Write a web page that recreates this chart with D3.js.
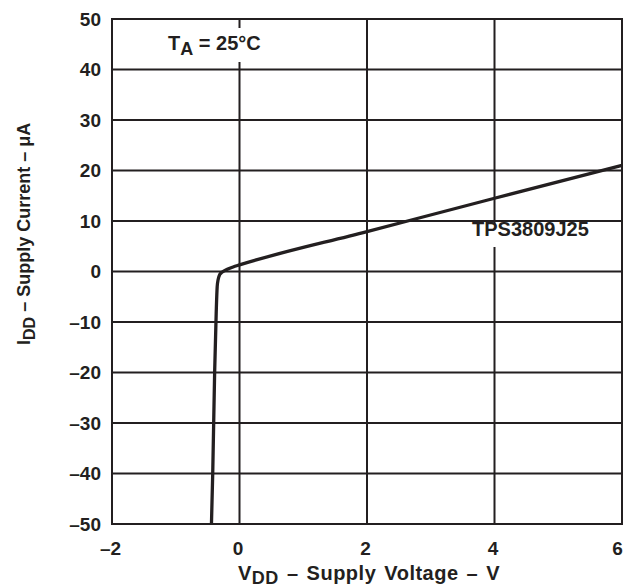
<!DOCTYPE html>
<html><head><meta charset="utf-8">
<script src="https://cdn.jsdelivr.net/npm/d3@7"></script>
<style>body{margin:0;background:#fff}svg{display:block}text{font-family:"Liberation Sans",Arial,sans-serif;font-weight:bold;fill:#231f20}</style>
</head><body><svg id="c" width="626" height="588"></svg>
<script>
const voltage = [-0.44, -0.42, -0.39, -0.365, -0.35, -0.335, -0.31, -0.27, -0.2, -0.1, 0, 2, 4, 6];
const current = [-50, -40, -20, -8, -3, -1.6, -0.6, -0.1, 0.4, 0.9, 1.3, 7.9, 14.5, 21];
const xTicks = [-2, 0, 2, 4, 6];
const yTicks = [-50, -40, -30, -20, -10, 0, 10, 20, 30, 40, 50];
const seriesLabel = "TPS3809J25";

const svg = d3.select("#c");
const L = 112, R = 622, T = 19, B = 524;
const x = d3.scaleLinear().domain([-2, 6]).range([L, R]);
const y = d3.scaleLinear().domain([-50, 50]).range([B, T]);
const ink = "#231f20";
const fmt = d => d < 0 ? "\u2013" + Math.abs(d) : String(d);

// grid
svg.append("g").selectAll("line").data(xTicks).join("line")
  .attr("x1", d => x(d)).attr("x2", d => x(d)).attr("y1", T).attr("y2", B)
  .attr("stroke", ink).attr("stroke-width", 2);
svg.append("g").selectAll("line").data(yTicks).join("line")
  .attr("x1", L - 1).attr("x2", R + 1).attr("y1", d => y(d)).attr("y2", d => y(d))
  .attr("stroke", ink).attr("stroke-width", 2);

// axes labels
const xa = svg.append("g").attr("transform", `translate(0,${B})`)
  .call(d3.axisBottom(x).tickValues(xTicks).tickSize(0).tickPadding(18).tickFormat(fmt));
const ya = svg.append("g").attr("transform", `translate(${L},0)`)
  .call(d3.axisLeft(y).tickValues(yTicks).tickSize(0).tickPadding(11).tickFormat(fmt));
[xa, ya].forEach(a => {
  a.attr("font-size", null).attr("font-family", null);
  a.select(".domain").remove();
  a.selectAll("text").style("font-size", "19px").style("font-weight", "bold").attr("fill", ink);
});
xa.selectAll("text").attr("dx", d => d === xTicks[xTicks.length - 1] ? -5 : -2);

// curve
const pts = voltage.map((v, i) => [v, current[i]]);
svg.append("path").datum(pts)
  .attr("fill", "none").attr("stroke", ink).attr("stroke-width", 3.3)
  .attr("stroke-linejoin", "round")
  .attr("d", d3.line().x(d => x(d[0])).y(d => y(d[1])).curve(d3.curveMonotoneX));

// annotations with white knockout
svg.append("rect").attr("x", 160).attr("y", 28).attr("width", 112).attr("height", 34).attr("fill", "#fff");
const ta = svg.append("text").attr("x", 168).attr("y", 50).style("font-size", "20px");
ta.append("tspan").text("T");
ta.append("tspan").attr("dy", 5).style("font-size", "18px").text("A");
ta.append("tspan").attr("dy", -5).text(" = 25\u00b0C");

svg.append("rect").attr("x", 455).attr("y", 224).attr("width", 166).attr("height", 23).attr("fill", "#fff");
svg.append("text").attr("x", 472).attr("y", 236).style("font-size", "20px").text(seriesLabel);

// axis titles
const xt = svg.append("text").attr("x", 238).attr("y", 580).style("font-size", "20px").style("letter-spacing", "0.5px").style("word-spacing", "2px");
xt.append("tspan").text("V");
xt.append("tspan").attr("dy", 4).style("font-size", "18px").text("DD");
xt.append("tspan").attr("dy", -4).text(" \u2013 Supply Voltage \u2013 V");

const yt = svg.append("text").attr("transform", "translate(30,345) rotate(-90)").style("font-size", "18px");
yt.append("tspan").text("I");
yt.append("tspan").attr("dy", 5).style("font-size", "16px").text("DD");
yt.append("tspan").attr("dy", -5).text(" \u2013 Supply Current \u2013 \u03bcA");
</script></body></html>
